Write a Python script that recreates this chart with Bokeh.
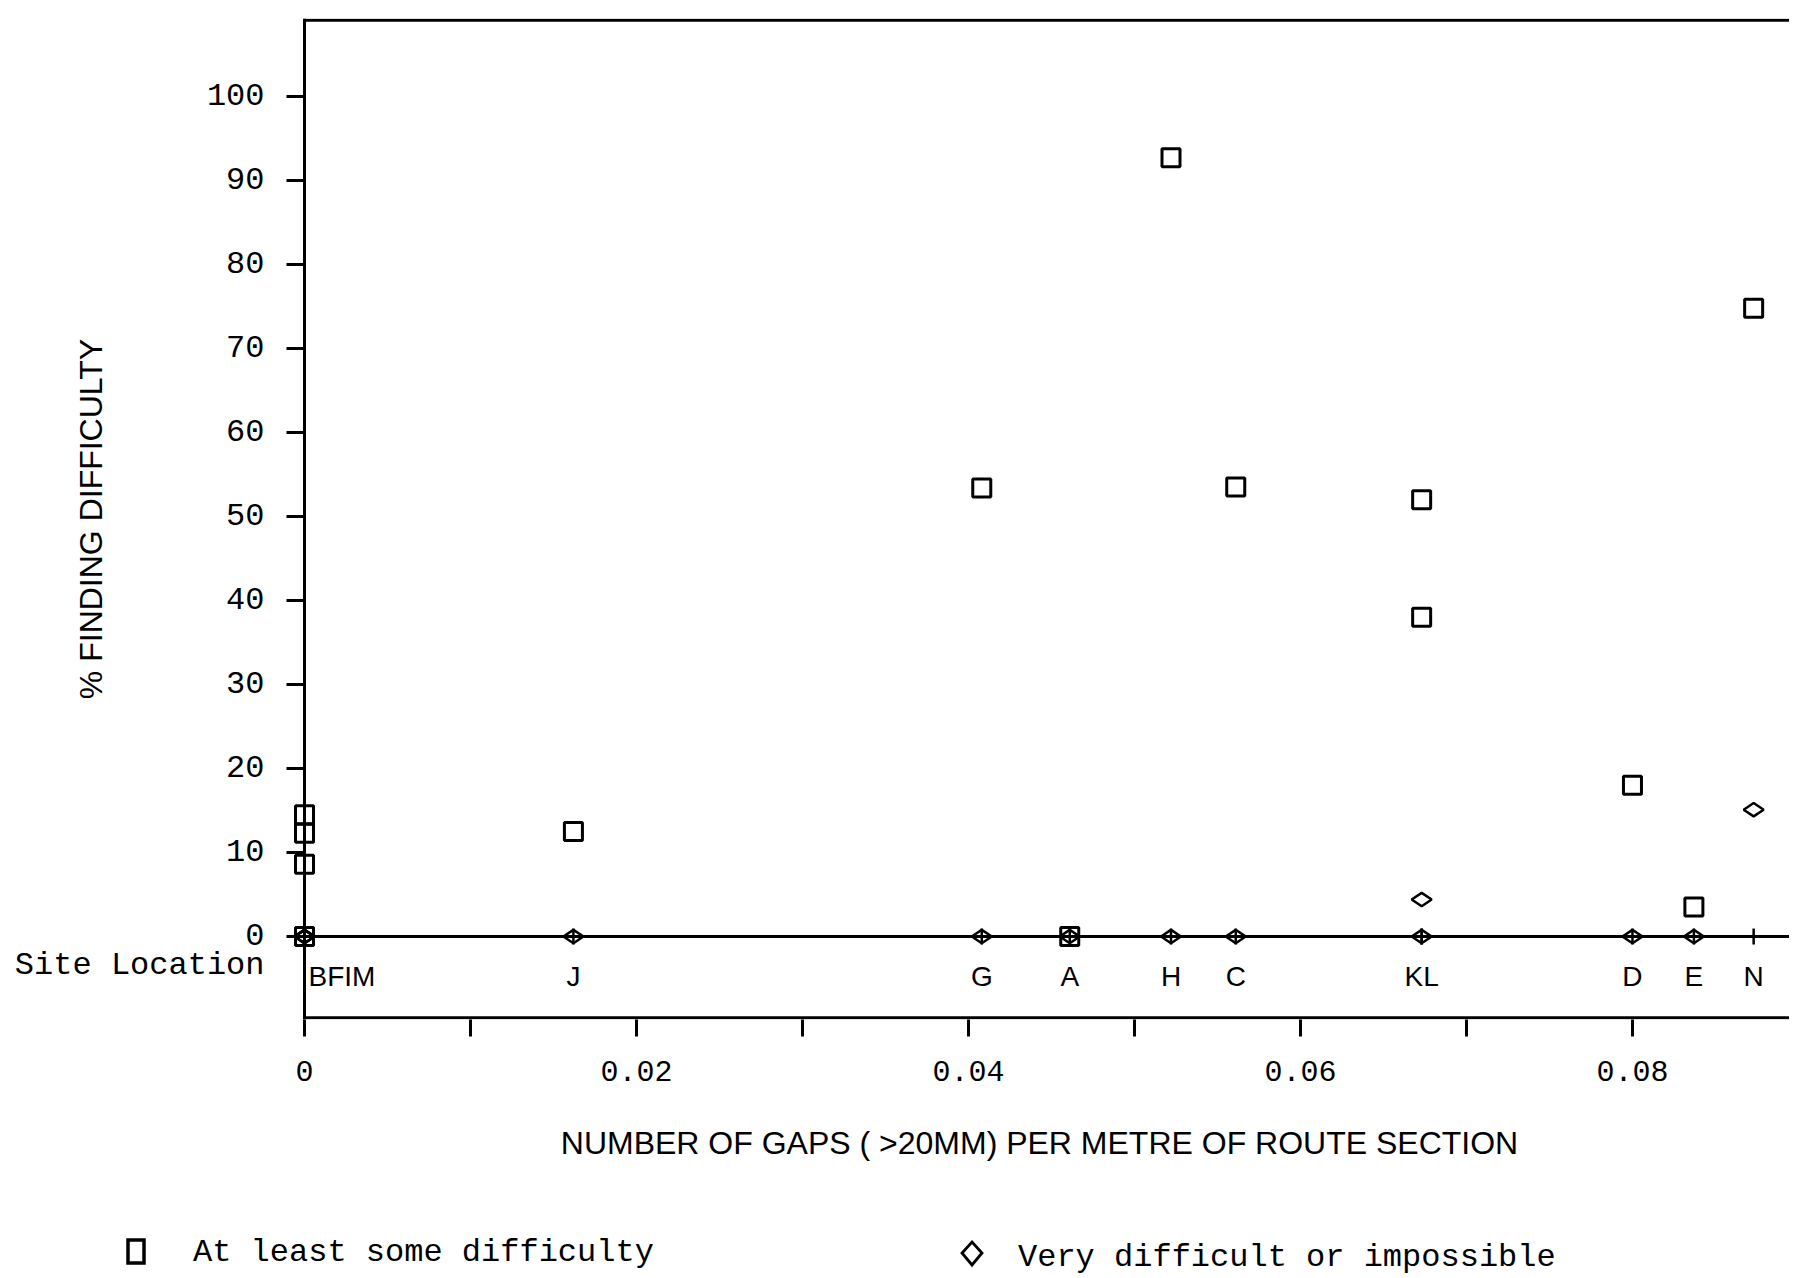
import math
from bokeh.plotting import figure
from bokeh.layouts import column
from bokeh.models import FixedTicker, Span, ColumnDataSource, Range1d, Div
from bokeh.core.properties import value
from bokeh.embed import file_html
from bokeh.resources import INLINE

# ---- data ----
sites = ["B", "F", "I", "M", "J", "G", "A", "H", "C", "K", "L", "D", "E", "N"]
gaps_per_m = [0, 0, 0, 0, 0.0162, 0.0408, 0.0461, 0.0522, 0.0561,
              0.0673, 0.0673, 0.0800, 0.0837, 0.0873]
some_difficulty = [14.5, 12.3, 8.6, 0, 12.5, 53.4, 0, 92.7, 53.5,
                   52.0, 38.0, 18.0, 3.5, 74.8]
very_difficult = [0, 0, 0, 0, 0, 0, 0, 0, 0, 4.4, 0, 0, 0, 15.1]

y_ticks = [0, 10, 20, 30, 40, 50, 60, 70, 80, 90, 100]
x_ticks = [0, 0.01, 0.02, 0.03, 0.04, 0.05, 0.06, 0.07, 0.08]
x_tick_labels = {0: "0", 0.02: "0.02", 0.04: "0.04", 0.06: "0.06", 0.08: "0.08"}

series_labels = ["At least some difficulty", "Very difficult or impossible"]

SITE_ROW_Y = -4.8          # row of the site letters
SITE_CAPTION_Y = -3.45     # row of the "Site Location" caption
SITE_CAPTION = "Site Location"

SANS = "Liberation Sans"
MONO = "Liberation Mono"

X0, X1 = -0.000904, 0.08946
Y0, Y1 = -9.88, 109.29

W = 1789
MAIN_H = 1206
LEG_H = 64

p = figure(width=W, height=MAIN_H, output_backend="svg", toolbar_location=None,
           x_range=Range1d(X0, X1), y_range=Range1d(Y0, Y1),
           min_border_left=289, min_border_right=0, min_border_top=18,
           min_border_bottom=MAIN_H - 1019)
p.grid.visible = False
p.outline_line_color = None
p.background_fill_color = "white"
p.border_fill_color = "white"

# ---- y axis: labels from major ticks, visible tick marks from minor ticks ----
ya = p.yaxis[0]
ya.ticker = FixedTicker(ticks=[SITE_CAPTION_Y] + y_ticks, minor_ticks=y_ticks)
ya.major_label_overrides = {SITE_CAPTION_Y: SITE_CAPTION}
ya.axis_line_color = None
ya.major_tick_line_color = None
ya.major_tick_out = 3
ya.major_tick_in = 0
ya.minor_tick_line_color = "black"
ya.minor_tick_line_width = 3
ya.minor_tick_out = 3
ya.minor_tick_in = 15
ya.major_label_standoff = 22
ya.major_label_text_font = MONO
ya.major_label_text_font_size = "32px"
ya.major_label_text_color = "black"
ya.axis_label = "% FINDING DIFFICULTY"
ya.axis_label_text_font = SANS
ya.axis_label_text_font_size = "32px"
ya.axis_label_text_font_style = "normal"
ya.axis_label_text_color = "black"
ya.axis_label_standoff = -97

# ---- x axis ----
xa = p.xaxis[0]
xa.ticker = FixedTicker(ticks=x_ticks)
xa.major_label_overrides = {t: x_tick_labels.get(t, "") for t in x_ticks}
xa.axis_line_color = None
xa.major_tick_line_width = 3
xa.major_tick_out = 17
xa.major_tick_in = 0
xa.minor_tick_line_color = None
xa.major_label_standoff = 24
xa.major_label_text_font = MONO
xa.major_label_text_font_size = "30px"
xa.major_label_text_color = "black"
xa.axis_label = "NUMBER OF GAPS ( >20MM) PER METRE OF ROUTE SECTION"
xa.axis_label_text_font = SANS
xa.axis_label_text_font_size = "32px"
xa.axis_label_text_font_style = "normal"
xa.axis_label_text_color = "black"
xa.axis_label_standoff = 41

# ---- frame lines: y axis line at x=0, zero line, top and bottom borders ----
p.add_layout(Span(location=0, dimension="height", line_color="black", line_width=3))
p.add_layout(Span(location=0, dimension="width", line_color="black", line_width=3))
p.segment(x0=[0, 0], y0=[Y1 - 0.2, Y0 + 0.2], x1=[X1, X1], y1=[Y1 - 0.2, Y0 + 0.2],
          line_color="black", line_width=3)

src = ColumnDataSource(dict(x=gaps_per_m, some=some_difficulty, very=very_difficult,
                            zero=[0] * len(sites)))

# site location tick marks on the zero line
p.scatter("x", "zero", source=src, marker="dash", angle=math.pi / 2, size=16,
          line_color="black", line_width=2.5)

p.scatter("x", "some", source=src, marker="square", size=18,
          fill_color=None, line_color="black", line_width=3)
p.scatter("x", "very", source=src, marker="diamond", angle=math.pi / 2, size=20,
          fill_color=None, line_color="black", line_width=2.5)

# site labels (grouped by position)
groups = {}
for s, g in zip(sites, gaps_per_m):
    groups.setdefault(g, []).append(s)
lab_x = list(groups.keys())
lab_text = ["".join(v) for v in groups.values()]
lab_align = ["left" if g == 0 else "center" for g in lab_x]
lab_off = [4 if g == 0 else 0 for g in lab_x]
lab_src = ColumnDataSource(dict(x=lab_x, y=[SITE_ROW_Y] * len(lab_x), text=lab_text,
                                align=lab_align, off=lab_off))
p.text("x", "y", text="text", source=lab_src, text_align="align", x_offset="off",
       text_baseline="middle", text_font=value(SANS), text_font_size="28px",
       text_color="black")

# ---- legend strip below the chart ----
sq_svg = ('<svg width="26" height="30" style="position:absolute;left:124px;top:31px">'
          '<rect x="4" y="3" width="16" height="23" fill="none" stroke="black" '
          'stroke-width="3.5"/></svg>')
di_svg = ('<svg width="28" height="30" style="position:absolute;left:958px;top:33px">'
          '<polygon points="14,3 24,14 14,26 4,14" fill="none" stroke="black" '
          'stroke-width="2.8"/></svg>')
txt_style = ("position:absolute;top:29px;line-height:36px;white-space:nowrap;"
             "font-family:'Liberation Mono',monospace;font-size:32px;color:black;")
legend_html = (
    f'<div style="position:relative;width:{W}px;height:{LEG_H}px;background:white;">'
    + sq_svg
    + f'<span style="{txt_style}left:193px;">{series_labels[0]}</span>'
    + di_svg
    + f'<span style="{txt_style}left:1018px;top:34px;">{series_labels[1]}</span>'
    + '</div>')
legend_div = Div(text=legend_html, width=W, height=LEG_H, margin=0)

open("out.html", "w").write(file_html(column(p, legend_div, spacing=0), INLINE))
